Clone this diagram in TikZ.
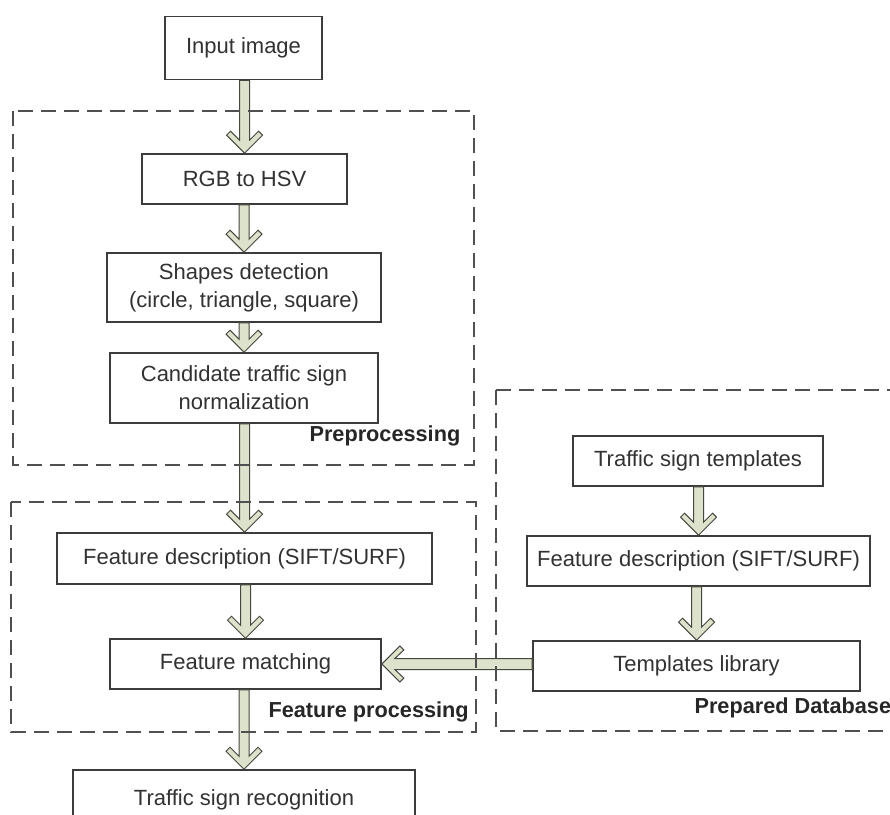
\documentclass[tikz,border=0pt]{standalone}
\usepackage{fontspec}
\setmainfont{Liberation Sans}
\usetikzlibrary{calc}

\definecolor{boxline}{RGB}{60,60,60}
\definecolor{txt}{RGB}{50,50,50}
\definecolor{dashline}{RGB}{80,80,80}
\definecolor{arrowfill}{RGB}{221,226,204}
\definecolor{arrowline}{RGB}{70,72,62}

% hollow block arrow pointing down, from the bottom of #1 to the top of #2
\newcommand{\DownBlockArrow}[2]{%
  \draw[blockarrow] let \p1=(#1.south), \p2=(#2.north) in
    (\x2,\y2) -- (\x2+18pt,\y2+18pt) -- (\x2+14pt,\y2+22pt) -- (\x2+5pt,\y2+13pt)
    -- (\x2+5pt,\y1) -- (\x2-5pt,\y1) -- (\x2-5pt,\y2+13pt)
    -- (\x2-14pt,\y2+22pt) -- (\x2-18pt,\y2+18pt) -- cycle;}
% hollow block arrow pointing left, from the left side of #1 to the right side of #2
\newcommand{\LeftBlockArrow}[2]{%
  \draw[blockarrow] let \p1=(#1.west), \p2=(#2.east) in
    (\x2,\y2) -- (\x2+18pt,\y2+18pt) -- (\x2+22pt,\y2+14pt) -- (\x2+13pt,\y2+5.5pt)
    -- (\x1,\y2+5.5pt) -- (\x1,\y2-5.5pt) -- (\x2+13pt,\y2-5.5pt)
    -- (\x2+22pt,\y2-14pt) -- (\x2+18pt,\y2-18pt) -- cycle;}

\begin{document}
\begin{tikzpicture}[x=1pt,y=-1pt,
  every node/.style={text=txt, font=\fontsize{22}{28}\selectfont},
  procbox/.style={draw=boxline, line width=1.6pt, fill=white, inner sep=0pt,
                  align=center, minimum width=#1},
  blockarrow/.style={draw=arrowline, line width=1pt, fill=arrowfill, line join=miter},
  groupbox/.style={draw=dashline, line width=1.7pt, dash pattern=on 15pt off 8pt},
  grouplabel/.style={anchor=west, font=\fontsize{21.7}{26}\bfseries\selectfont, text=black!85}]

\useasboundingbox (0,0) rectangle (890,814);
\clip (0,0) rectangle (890,814);
\fill[white] (0,0) rectangle (890,814);

% main processing chain
\node[procbox=157pt, minimum height=63pt] (input) at (243.5,48) {Input image};
\node[procbox=205pt, minimum height=50pt] (rgb) at (244.5,179) {RGB to HSV};
\node[procbox=274pt, minimum height=69pt] (shapes) at (244,287.5) {Shapes detection\\(circle, triangle, square)};
\node[procbox=268pt, minimum height=70pt] (cand) at (244,388) {Candidate traffic sign\\normalization};
\node[procbox=375pt, minimum height=51pt] (featdesc) at (244.5,558.5) {Feature description (SIFT/SURF)};
\node[procbox=271pt, minimum height=50pt] (match) at (245.5,664) {Feature matching};
\node[procbox=342pt, minimum height=60pt] (recog) at (244,800) {Traffic sign recognition};

% template database chain
\node[procbox=250pt, minimum height=50pt] (templ) at (698,461) {Traffic sign templates};
\node[procbox=343pt, minimum height=50pt] (tdesc) at (698.5,561) {Feature description (SIFT/SURF)};
\node[procbox=327pt, minimum height=50pt] (lib) at (696.5,666) {Templates library};

% connectors
\DownBlockArrow{input}{rgb}
\DownBlockArrow{rgb}{shapes}
\DownBlockArrow{shapes}{cand}
\DownBlockArrow{cand}{featdesc}
\DownBlockArrow{featdesc}{match}
\DownBlockArrow{match}{recog}
\DownBlockArrow{templ}{tdesc}
\DownBlockArrow{tdesc}{lib}
\LeftBlockArrow{lib}{match}

% stage groups
\draw[groupbox] (13,111) rectangle (474,465);
\draw[groupbox] (11,502) rectangle (476,732);
\draw[groupbox] (496,390) rectangle (910,731);

\node[grouplabel] (lblpre) at (306,436) {Preprocessing};
\node[grouplabel] (lblfeat) at (265,712) {Feature processing};
\node[grouplabel] (lbldb) at (691,708) {Prepared Database};
\end{tikzpicture}
\end{document}
